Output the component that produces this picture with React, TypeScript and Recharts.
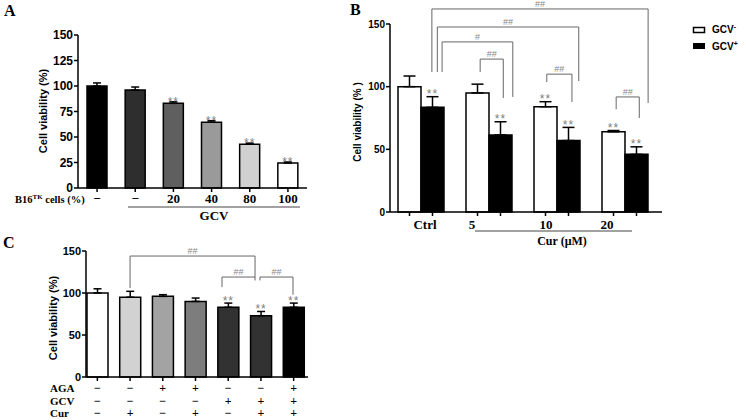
import React from "react";
import { Bar, BarChart, Cell, ErrorBar, LabelList, ReferenceLine, XAxis, YAxis } from "recharts";

const SANS = "'Liberation Sans', Arial, sans-serif";
const SERIF = "'Liberation Serif', 'Times New Roman', serif";

// ---- panel A: B16TK cells (%) + GCV ----
const aTicks = ["−", "−", "20", "40", "80", "100"];
const aViability = [100, 96, 83, 64.5, 43, 24.5];
const aSem = [3, 3, 1.5, 1.5, 1, 1];
const aStars = ["", "", "**", "**", "**", "**"];

// ---- panel B: Cur dose, GCV- / GCV+ ----
const bDoses = ["Ctrl", "5", "10", "20"];
const bGcvMinus = [100, 95, 84, 64];
const bGcvMinusSem = [8.5, 7, 4, 1];
const bGcvPlus = [83.5, 61.5, 57, 46];
const bGcvPlusSem = [8.5, 10.5, 10.5, 6];
const bStarsMinus = ["", "", "**", "**"];
const bStarsPlus = ["**", "**", "**", "**"];
// significance brackets, x in band units (0..4), y in % units
const bBrackets = [
  { x1: 0.66, x2: 3.84, top: 162, left: 111.7, right: 87, mark: "##" },
  { x1: 0.74, x2: 2.82, top: 147.6, left: 111.7, right: 104.5, mark: "##" },
  { x1: 0.81, x2: 1.85, top: 135.7, left: 111.7, right: 91.8, mark: "#" },
  { x1: 1.37, x2: 1.71, top: 122, left: 111.7, right: 91, mark: "##" },
  { x1: 2.35, x2: 2.72, top: 110, left: 103.7, right: 87.8, mark: "##" },
  { x1: 3.37, x2: 3.71, top: 91.8, left: 82, right: 75, mark: "##" },
];

// ---- panel C: AGA / GCV / Cur combinations ----
const cViability = [100, 95, 96, 90, 83, 73, 83];
const cSem = [5, 7, 2, 4, 5, 5, 5];
const cStars = ["", "", "", "", "**", "**", "**"];
const cAga = ["−", "−", "+", "+", "−", "−", "+"];
const cGcv = ["−", "−", "−", "−", "+", "+", "+"];
const cCur = ["−", "+", "−", "+", "−", "+", "+"];
const cBrackets = [
  { x1: 1.5, x2: 5.32, top: 144, left: 106, right: 119, mark: "##" },
  { x1: 4.31, x2: 5.32, top: 119, left: 107, right: 115, mark: "##" },
  { x1: 5.47, x2: 6.48, top: 119, left: 115, right: 98, mark: "##" },
];

const aFills = ["#000000", "#2e2e2e", "#5f5f5f", "#9a9a9a", "#d0d0d0", "#ffffff"];
const cFills = ["#ffffff", "#d2d2d2", "#a3a3a3", "#7d7d7d", "#323232", "#323232", "#000000"];

const aData = aTicks.map((t, i) => ({ id: `a${i}`, value: aViability[i], err: [0, aSem[i]], stars: aStars[i] }));
const bData = bDoses.map((d, i) => ({
  dose: d,
  minus: bGcvMinus[i],
  minusErr: [0, bGcvMinusSem[i]],
  minusStars: bStarsMinus[i],
  plus: bGcvPlus[i],
  plusErr: [0, bGcvPlusSem[i]],
  plusStars: bStarsPlus[i],
}));
const cData = cViability.map((v, i) => ({ id: `c${i}`, value: v, err: [0, cSem[i]], stars: cStars[i] }));

const axisLine = { stroke: "#000", strokeWidth: 1.5 };
const yTick = (size: number) => ({ fill: "#000", fontSize: size, fontWeight: 700, fontFamily: SANS });

// stars sit just above the error bar cap
const starLabel = (vals: number[], sems: number[], lift: number) => (props: any) => {
  const { x, y, width, height, index, value } = props;
  if (!value) return null;
  const ppu = Number(height) / vals[index];
  const top = Number(y) - sems[index] * ppu;
  return (
    <text x={Number(x) + Number(width) / 2} y={top + lift} textAnchor="middle" fill="#808080"
      fontSize={12} fontFamily={SANS} letterSpacing={1}>
      {value}
    </text>
  );
};

// the hidden bracket axis spans [0, n-1] over the plot, so band units get rescaled
const bracketLines = (list: any[], n: number, prefix: string) => {
  const k = (n - 1) / n;
  return list.flatMap((b, i) => [
    <ReferenceLine key={`${prefix}h${i}`} xAxisId="br" ifOverflow="visible" stroke="#666" strokeWidth={1}
      segment={[{ x: b.x1 * k, y: b.top }, { x: b.x2 * k, y: b.top }]}
      label={{ value: b.mark, position: "top", offset: 2, fill: "#888", fontSize: 9, fontFamily: SANS }} />,
    <ReferenceLine key={`${prefix}l${i}`} xAxisId="br" ifOverflow="visible" stroke="#666" strokeWidth={1}
      segment={[{ x: b.x1 * k, y: b.top }, { x: b.x1 * k, y: b.left }]} />,
    <ReferenceLine key={`${prefix}r${i}`} xAxisId="br" ifOverflow="visible" stroke="#666" strokeWidth={1}
      segment={[{ x: b.x2 * k, y: b.top }, { x: b.x2 * k, y: b.right }]} />,
  ]);
};

const ATick = (props: any) => {
  const { x, y, index } = props;
  return (
    <text x={x} y={y + 9} textAnchor="middle" fontFamily={SERIF} fontWeight="bold" fontSize={13} fill="#000">
      {aTicks[index]}
    </text>
  );
};

const bTickDx = [4, -17, -11, -18];
const BTick = (props: any) => {
  const { x, y, index } = props;
  return (
    <g>
      <line x1={x - 11.5} x2={x - 11.5} y1={y - 6} y2={y - 2} stroke="#000" strokeWidth={1.5} />
      <line x1={x + 11.5} x2={x + 11.5} y1={y - 6} y2={y - 2} stroke="#000" strokeWidth={1.5} />
      <text x={x + bTickDx[index]} y={y + 11} textAnchor="middle" fontFamily={SERIF} fontWeight="bold" fontSize={13} fill="#000">
        {bDoses[index]}
      </text>
    </g>
  );
};

const CTick = (props: any) => {
  const { x, y, index } = props;
  return (
    <g fontFamily={SERIF} fontWeight="bold" fontSize={12} fill="#000">
      <text x={x} y={y + 9} textAnchor="middle">{cAga[index]}</text>
      <text x={x} y={y + 22} textAnchor="middle">{cGcv[index]}</text>
      <text x={x} y={y + 34} textAnchor="middle">{cCur[index]}</text>
    </g>
  );
};

const Overlay = () => (
  <svg width={746} height={420} style={{ position: "absolute", left: 0, top: 0, pointerEvents: "none" }}>
    <g fontFamily={SERIF} fontWeight="bold" fill="#000">
      <text x={4} y={16} fontSize={16}>A</text>
      <text x={350} y={15} fontSize={16}>B</text>
      <text x={3} y={248} fontSize={16}>C</text>
    </g>
    <g fontFamily={SANS} fontWeight="bold" fill="#000" textAnchor="middle">
      <text transform="translate(47,111) rotate(-90)" fontSize={11}>Cell viability (%)</text>
      <text transform="translate(361,122) rotate(-90)" fontSize={10}>Cell viability (% )</text>
      <text transform="translate(57,318) rotate(-90)" fontSize={11}>Cell viability (%)</text>
    </g>
    {/* panel A x labels */}
    <text x={15} y={203} fontFamily={SERIF} fontWeight="bold" fontSize={10.5} fill="#000">
      B16<tspan fontSize={7} dy={-4}>TK</tspan><tspan dy={4}> cells (%)</tspan>
    </text>
    <line x1={128} x2={300} y1={207} y2={207} stroke="#444" strokeWidth={1} />
    <text x={214} y={220} textAnchor="middle" fontFamily={SERIF} fontWeight="bold" fontSize={13} fill="#000">GCV</text>
    {/* panel B x label */}
    <line x1={475} x2={632} y1={231} y2={231} stroke="#444" strokeWidth={1} />
    <text x={562} y={245} textAnchor="middle" fontFamily={SERIF} fontWeight="bold" fontSize={12} fill="#000">Cur (μM)</text>
    {/* panel B legend */}
    <rect x={693.5} y={27.5} width={11} height={5} fill="#fff" stroke="#000" strokeWidth={1.5} />
    <rect x={693} y={43} width={12} height={6} fill="#000" />
    <g fontFamily={SANS} fontWeight="bold" fontSize={10} fill="#000">
      <text x={712} y={33}>GCV<tspan fontSize={7} dy={-4}>-</tspan></text>
      <text x={712} y={50}>GCV<tspan fontSize={7} dy={-4}>+</tspan></text>
    </g>
    {/* panel C row names */}
    <g fontFamily={SERIF} fontWeight="bold" fontSize={11} fill="#000">
      <text x={50} y={392}>AGA</text>
      <text x={50} y={405}>GCV</text>
      <text x={50} y={417}>Cur</text>
    </g>
  </svg>
);

export default function App() {
  return (
    <div style={{ position: "absolute", left: 0, top: 0, width: 746, height: 420, background: "#fff", overflow: "hidden" }}>
      <div style={{ position: "absolute", left: 0, top: 0 }}>
        <BarChart width={320} height={225} data={aData} margin={{ top: 35, right: 13, bottom: 7, left: 33 }}>
          <XAxis dataKey="id" interval={0} tick={<ATick />} tickSize={4} tickMargin={2} axisLine={axisLine}
            tickLine={{ stroke: "#000", strokeWidth: 1.5 }} />
          <YAxis domain={[0, 150]} ticks={[0, 25, 50, 75, 100, 125, 150]} width={45} tickSize={4} tickMargin={1}
            tick={yTick(12)} axisLine={axisLine} tickLine={{ stroke: "#000", strokeWidth: 1.5 }} />
          <Bar dataKey="value" barSize={20} stroke="#000" strokeWidth={1.5} isAnimationActive={false}>
            {aData.map((d, i) => (
              <Cell key={d.id} fill={aFills[i]} />
            ))}
            <ErrorBar dataKey="err" width={4} stroke="#000" strokeWidth={1.5} direction="y" />
            <LabelList dataKey="stars" content={starLabel(aViability, aSem, 4)} />
          </Bar>
        </BarChart>
      </div>

      <div style={{ position: "absolute", left: 340, top: 0 }}>
        <BarChart width={330} height={250} data={bData} barGap={0} margin={{ top: 24, right: 8, bottom: 8, left: 20 }}>
          <XAxis dataKey="dose" interval={0} padding={{ left: -3, right: 3 }} tick={<BTick />} tickLine={false}
            tickSize={4} tickMargin={2} axisLine={axisLine} />
          <XAxis xAxisId="br" type="number" domain={[0, bDoses.length - 1]} hide allowDataOverflow padding={{ left: -3, right: 3 }} />
          <YAxis domain={[0, 150]} ticks={[0, 50, 100, 150]} width={30} tickSize={4} tickMargin={1}
            tick={yTick(10)} axisLine={axisLine} tickLine={{ stroke: "#000", strokeWidth: 1.5 }} />
          <Bar dataKey="minus" barSize={23} fill="#fff" stroke="#000" strokeWidth={1.5} isAnimationActive={false}>
            <ErrorBar dataKey="minusErr" width={6} stroke="#000" strokeWidth={1.5} direction="y" />
            <LabelList dataKey="minusStars" content={starLabel(bGcvMinus, bGcvMinusSem, 1.5)} />
          </Bar>
          <Bar dataKey="plus" barSize={23} fill="#000" stroke="#000" strokeWidth={1.5} isAnimationActive={false}>
            <ErrorBar dataKey="plusErr" width={6} stroke="#000" strokeWidth={1.5} direction="y" />
            <LabelList dataKey="plusStars" content={starLabel(bGcvPlus, bGcvPlusSem, 1.5)} />
          </Bar>
          {bracketLines(bBrackets, bDoses.length, "b")}
        </BarChart>
      </div>

      <div style={{ position: "absolute", left: 0, top: 230 }}>
        <BarChart width={320} height={190} data={cData} margin={{ top: 21, right: 12, bottom: 13, left: 46 }}>
          <XAxis dataKey="id" interval={0} padding={{ left: -5, right: -2 }} tick={<CTick />} tickSize={4} tickMargin={2}
            axisLine={axisLine} tickLine={{ stroke: "#000", strokeWidth: 1.5 }} />
          <XAxis xAxisId="br" type="number" domain={[0, cViability.length - 1]} hide allowDataOverflow padding={{ left: -5, right: -2 }} />
          <YAxis domain={[0, 150]} ticks={[0, 50, 100, 150]} width={40} tickSize={4} tickMargin={1}
            tick={yTick(11)} axisLine={axisLine} tickLine={{ stroke: "#000", strokeWidth: 1.5 }} />
          <Bar dataKey="value" barSize={21} stroke="#000" strokeWidth={1.5} isAnimationActive={false}>
            {cData.map((d, i) => (
              <Cell key={d.id} fill={cFills[i]} />
            ))}
            <ErrorBar dataKey="err" width={4} stroke="#000" strokeWidth={1.5} direction="y" />
            <LabelList dataKey="stars" content={starLabel(cViability, cSem, 2)} />
          </Bar>
          {bracketLines(cBrackets, cViability.length, "c")}
        </BarChart>
      </div>

      <Overlay />
    </div>
  );
}
